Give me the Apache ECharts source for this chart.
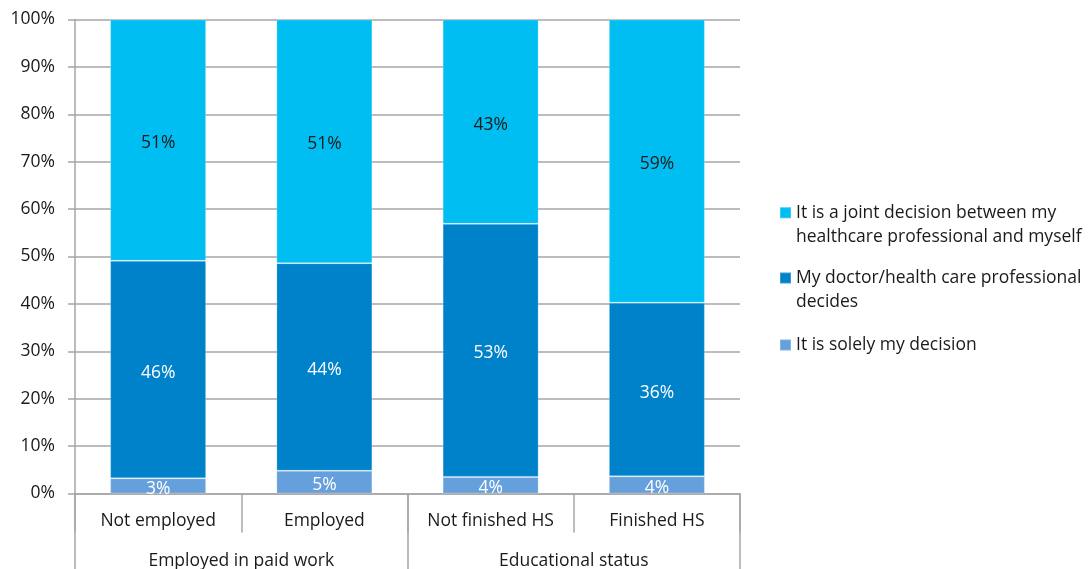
<!DOCTYPE html>
<html>
<head>
<meta charset="utf-8">
<script src="https://cdn.jsdelivr.net/npm/echarts@6/dist/echarts.min.js"></script>
<style>
  html, body { margin: 0; padding: 0; background: #ffffff; }
  #chart { width: 1091px; height: 569px; }
</style>
</head>
<body>
<div id="chart"></div>
<script>
// Sub-groups on the category axis and the groups that contain them
const categories = ['Not employed', 'Employed', 'Not finished HS', 'Finished HS'];
const groups = ['Employed in paid work', 'Educational status'];

// Series names (legend order, top to bottom)
const seriesNames = [
  'It is a joint decision between my healthcare professional and myself',
  'My doctor/health care professional decides',
  'It is solely my decision'
];
// Legend text as it wraps on screen
const legendLines = [
  ['It is a joint decision between my', 'healthcare professional and myself'],
  ['My doctor/health care professional', 'decides'],
  ['It is solely my decision']
];

// Percent of respondents per answer
const solely = [3.2, 4.8, 3.5, 3.6];
const doctor = [45.9, 43.8, 53.4, 36.4];
const joint  = [50.9, 51.4, 43.1, 59.4];

const yTicks = [0, 10, 20, 30, 40, 50, 60, 70, 80, 90, 100];

const FONT = 'Open Sans';
const FS = 17.5;
const GRAY = '#a6a6a6';
const colors = { joint: '#00bef2', doctor: '#0082ca', solely: '#66a0dc' };

// 100% stacked: each column is scaled to its own total
const totals = categories.map((_, i) => solely[i] + doctor[i] + joint[i]);
const share = arr => arr.map((v, i) => ({ value: v / totals[i] * 100, raw: v }));

function barSeries(name, arr, color, labelColor) {
  return {
    name: name,
    type: 'bar',
    stack: 'total',
    barWidth: 96,
    xAxisIndex: 0,
    data: share(arr),
    itemStyle: { color: color, borderColor: 'rgba(255,255,255,0.22)', borderWidth: 1 },
    label: {
      show: true,
      position: 'inside',
      offset: [0, 3],
      color: labelColor,
      fontFamily: FONT,
      fontSize: FS,
      formatter: p => Math.round(p.data.raw) + '%'
    },
    emphasis: { disabled: true }
  };
}

// One legend block per entry so every swatch sits on the first text line
const legendTops = [176, 241.25, 332.75];
const legends = seriesNames.map((name, i) => ({
  data: [name],
  left: 779,
  top: legendTops[i],
  padding: 0,
  itemWidth: 11,
  itemHeight: 11,
  icon: 'rect',
  selectedMode: false,
  textStyle: { fontFamily: FONT, fontSize: FS, color: '#1a1a1a', lineHeight: 24.5 },
  formatter: () => (legendLines[i].length > 1 ? '\n' : '') + legendLines[i].join('\n')
}));

const option = {
  backgroundColor: '#ffffff',
  animation: false,
  color: [colors.solely, colors.doctor, colors.joint],
  legend: legends,
  grid: { left: 75, right: 351, top: 19.5, bottom: 75.5, containLabel: false, outerBoundsMode: 'none' },
  xAxis: [
    {
      type: 'category',
      data: categories,
      position: 'bottom',
      axisLine: { show: true, lineStyle: { color: GRAY, width: 1.5 } },
      axisTick: { show: true, length: 39, lineStyle: { color: GRAY, width: 1.5 } },
      axisLabel: { interval: 0, margin: 19, color: '#1a1a1a', fontFamily: FONT, fontSize: FS },
      z: 1
    },
    {
      type: 'category',
      data: groups,
      position: 'bottom',
      axisLine: { show: false },
      axisTick: { show: true, length: 76, lineStyle: { color: GRAY, width: 1.5 } },
      axisLabel: { interval: 0, margin: 59, color: '#1a1a1a', fontFamily: FONT, fontSize: FS },
      splitLine: { show: false }
    }
  ],
  yAxis: {
    type: 'value',
    min: yTicks[0],
    max: yTicks[yTicks.length - 1],
    interval: 10,
    axisLine: { show: true, lineStyle: { color: GRAY, width: 1.5 } },
    axisTick: { show: true, length: 7, lineStyle: { color: GRAY, width: 1.5 } },
    axisLabel: { margin: 20, padding: [2, 0, 0, 0], color: '#1a1a1a', fontFamily: FONT, fontSize: FS, formatter: '{value}%' },
    splitLine: { show: true, lineStyle: { color: GRAY, width: 1.5 } }
  },
  series: [
    barSeries(seriesNames[2], solely, colors.solely, '#ffffff'),
    barSeries(seriesNames[1], doctor, colors.doctor, '#ffffff'),
    barSeries(seriesNames[0], joint, colors.joint, '#1a1a1a')
  ]
};

const chart = echarts.init(document.getElementById('chart'), null, { renderer: 'canvas' });
chart.setOption(option);
</script>
</body>
</html>
